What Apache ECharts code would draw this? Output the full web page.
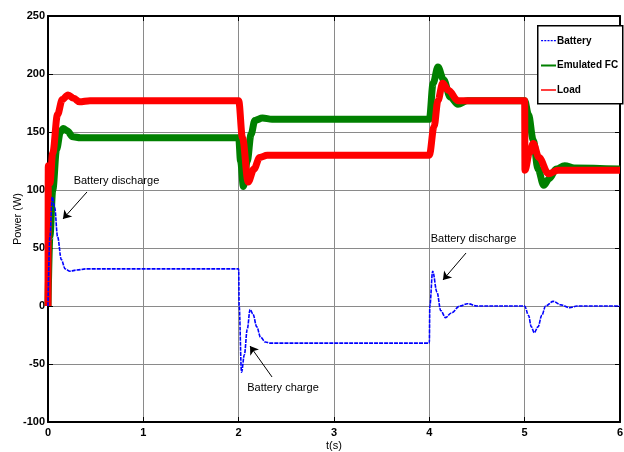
<!DOCTYPE html>
<html>
<head>
<meta charset="utf-8">
<script src="https://cdn.jsdelivr.net/npm/echarts@6/dist/echarts.min.js"></script>
<style>
html,body{margin:0;padding:0;background:#fff;}
#chart{width:624px;height:452px;}
</style>
</head>
<body>
<div id="chart"></div>
<script>
// ---- data ----
var xTicks = [0, 1, 2, 3, 4, 5, 6];
var yTicks = [-100, -50, 0, 50, 100, 150, 200, 250];

var batteryT = [0, 0.02, 0.045, 0.07, 0.1, 0.14, 0.18, 0.23, 0.3, 0.4, 2.0, 2.005, 2.03, 2.06, 2.09, 2.12, 2.15, 2.19, 2.23, 2.28, 2.33, 4.0, 4.005, 4.035, 4.08, 4.12, 4.17, 4.23, 4.32, 4.4, 4.5, 5.0, 5.04, 5.07, 5.1, 5.14, 5.18, 5.22, 5.3, 5.38, 5.47, 5.55, 6];
var batteryP = [0, 60, 94, 85, 60, 40, 32, 30, 31, 32, 32, 0, -57, -42, -20, -3, -7, -18, -27, -31, -32, -32, 0, 30, 12, -4, -10, -6, 0, 2, 0, 0, -8, -18, -23, -18, -8, 0, 4, 1, -1.5, 0, 0];

var fcT = [0, 0.02, 0.05, 0.09, 0.13, 0.16, 0.2, 0.26, 0.34, 2.0, 2.02, 2.05, 2.09, 2.13, 2.17, 2.25, 2.35, 4.0, 4.04, 4.09, 4.15, 4.22, 4.3, 4.4, 5.0, 5.04, 5.09, 5.14, 5.2, 5.26, 5.33, 5.42, 5.52, 6];
var fcP = [0, 60, 100, 135, 150, 153, 151, 146, 145, 145, 125, 103, 125, 148, 160, 162, 161, 161, 192, 206, 195, 180, 174, 177, 177, 165, 143, 118, 104, 110, 118, 121, 119, 118];

var loadT = [0, 0.003, 0.02, 0.05, 0.1, 0.15, 0.21, 0.27, 0.33, 0.44, 2.0, 2.04, 2.1, 2.16, 2.22, 2.3, 4.0, 4.05, 4.09, 4.14, 4.2, 4.3, 4.4, 5.0, 5.003, 5.05, 5.09, 5.15, 5.25, 5.35, 6];
var loadP = [0, 121, 106, 132, 165, 178, 182, 179, 176, 177, 177, 145, 107, 118, 128, 130, 130, 155, 177, 192, 186, 177, 177, 177, 117, 132, 140, 128, 114, 117, 117];

// annotations (data coordinates)
var annTexts = ['Battery discharge', 'Battery charge', 'Battery discharge'];
var annTextPos = [[0.718, 107.8], [2.465, -70.7], [4.463, 57.8]];
var annArrowFrom = [[0.409, 98.3], [2.35, -61.2], [4.385, 45.7]];
var annArrowTo = [[0.157, 75], [2.119, -34.5], [4.143, 22.4]];

function zip(t, v) { return t.map(function (x, i) { return [x, v[i]]; }); }

var FONT = '"Liberation Sans", Arial, sans-serif';

var chart = echarts.init(document.getElementById('chart'), null, {renderer: 'canvas'});

var axisCommonX = {type: 'value', min: 0, max: 6, interval: 1};
var axisCommonY = {type: 'value', min: -100, max: 250, interval: 50};

var option = {
  animation: false,
  backgroundColor: '#ffffff',
  grid: {left: 48, right: 4, top: 16, bottom: 30, show: false, containLabel: false, outerBoundsMode: 'none'},
  xAxis: [
    Object.assign({}, axisCommonX, {
      position: 'bottom',
      name: 't(s)', nameLocation: 'middle', nameGap: 18, nameMoveOverlap: false,
      nameTextStyle: {fontFamily: FONT, fontSize: 11, color: '#000'},
      axisLine: {show: true, onZero: false, lineStyle: {color: '#000', width: 2}},
      axisTick: {show: true, inside: true, length: 5, lineStyle: {color: '#000'}},
      axisLabel: {show: true, margin: 5, fontFamily: FONT, fontSize: 11, fontWeight: 'bold', color: '#000'},
      splitLine: {show: true, lineStyle: {color: '#8a8a8a', width: 1}}
    }),
    Object.assign({}, axisCommonX, {
      position: 'top',
      axisLine: {show: true, onZero: false, lineStyle: {color: '#000', width: 2}},
      axisTick: {show: true, inside: true, length: 5, lineStyle: {color: '#000'}},
      axisLabel: {show: false},
      splitLine: {show: false}
    })
  ],
  yAxis: [
    Object.assign({}, axisCommonY, {
      position: 'left',
      name: 'Power (W)', nameLocation: 'middle', nameGap: 25, nameMoveOverlap: false,
      nameTextStyle: {fontFamily: FONT, fontSize: 11, color: '#000'},
      axisLine: {show: true, onZero: false, lineStyle: {color: '#000', width: 2}},
      axisTick: {show: true, inside: true, length: 5, lineStyle: {color: '#000'}},
      axisLabel: {show: true, margin: 3, fontFamily: FONT, fontSize: 11, fontWeight: 'bold', color: '#000'},
      splitLine: {show: true, lineStyle: {color: '#8a8a8a', width: 1}}
    }),
    Object.assign({}, axisCommonY, {
      position: 'right',
      axisLine: {show: true, onZero: false, lineStyle: {color: '#000', width: 2}},
      axisTick: {show: true, inside: true, length: 5, lineStyle: {color: '#000'}},
      axisLabel: {show: false},
      splitLine: {show: false}
    })
  ],
  legend: {
    orient: 'vertical', left: 541, top: 34, padding: 0,
    itemWidth: 15, itemHeight: 14, itemGap: 10.5,
    textStyle: {fontFamily: FONT, fontSize: 10, fontWeight: 'bold', color: '#000', padding: [0, 0, 0, -4], lineHeight: 14},
    data: [
      {name: 'Battery', icon: 'path://M0,6h2v1.3h-2zM3.2,6h2v1.3h-2zM6.4,6h2v1.3h-2zM9.6,6h2v1.3h-2zM12.8,6h2v1.3h-2zM0,0h0.01v0.01h-0.01zM0,13.99h0.01v0.01h-0.01z'},
      {name: 'Emulated FC', icon: 'path://M0,6h15v2h-15zM0,0h0.01v0.01h-0.01zM0,13.99h0.01v0.01h-0.01z'},
      {name: 'Load', icon: 'path://M0,6.2h15v1.5h-15zM0,0h0.01v0.01h-0.01zM0,13.99h0.01v0.01h-0.01z'}
    ],
    z: 10
  },
  graphic: [{
    type: 'rect', left: 537, top: 25, z: 9,
    shape: {width: 85, height: 78},
    style: {fill: '#fff', stroke: '#000', lineWidth: 1.5}
  }],
  series: [
    {
      name: 'Battery', type: 'line', data: zip(batteryT, batteryP),
      symbol: 'none', smooth: 0.35, smoothMonotone: 'x',
      lineStyle: {color: '#0000ff', width: 1.6, type: [4, 1]},
      itemStyle: {color: '#0000ff'}, z: 5,
      markLine: {
        silent: true, symbol: ['none', 'arrow'], symbolSize: 8,
        lineStyle: {color: '#000', width: 1, type: 'solid'},
        itemStyle: {color: '#000'},
        label: {show: false},
        data: annArrowFrom.map(function (f, i) {
          return [{coord: f}, {coord: annArrowTo[i]}];
        })
      },
      markPoint: {
        silent: true, symbol: 'circle', symbolSize: 0,
        label: {show: true, position: 'inside', fontFamily: FONT, fontSize: 11, color: '#000'},
        data: annTexts.map(function (s, i) {
          return {coord: annTextPos[i], value: s, label: {formatter: s}};
        })
      }
    },
    {
      name: 'Emulated FC', type: 'line', data: zip(fcT, fcP),
      symbol: 'none', smooth: 0.35, smoothMonotone: 'x',
      lineStyle: {color: '#008000', width: 7},
      itemStyle: {color: '#008000'}, z: 3
    },
    {
      name: 'Load', type: 'line', data: zip(loadT, loadP),
      symbol: 'none', smooth: 0.35, smoothMonotone: 'x',
      lineStyle: {color: '#ff0000', width: 7},
      itemStyle: {color: '#ff0000'}, z: 4
    }
  ]
};
chart.setOption(option);
</script>
</body>
</html>
